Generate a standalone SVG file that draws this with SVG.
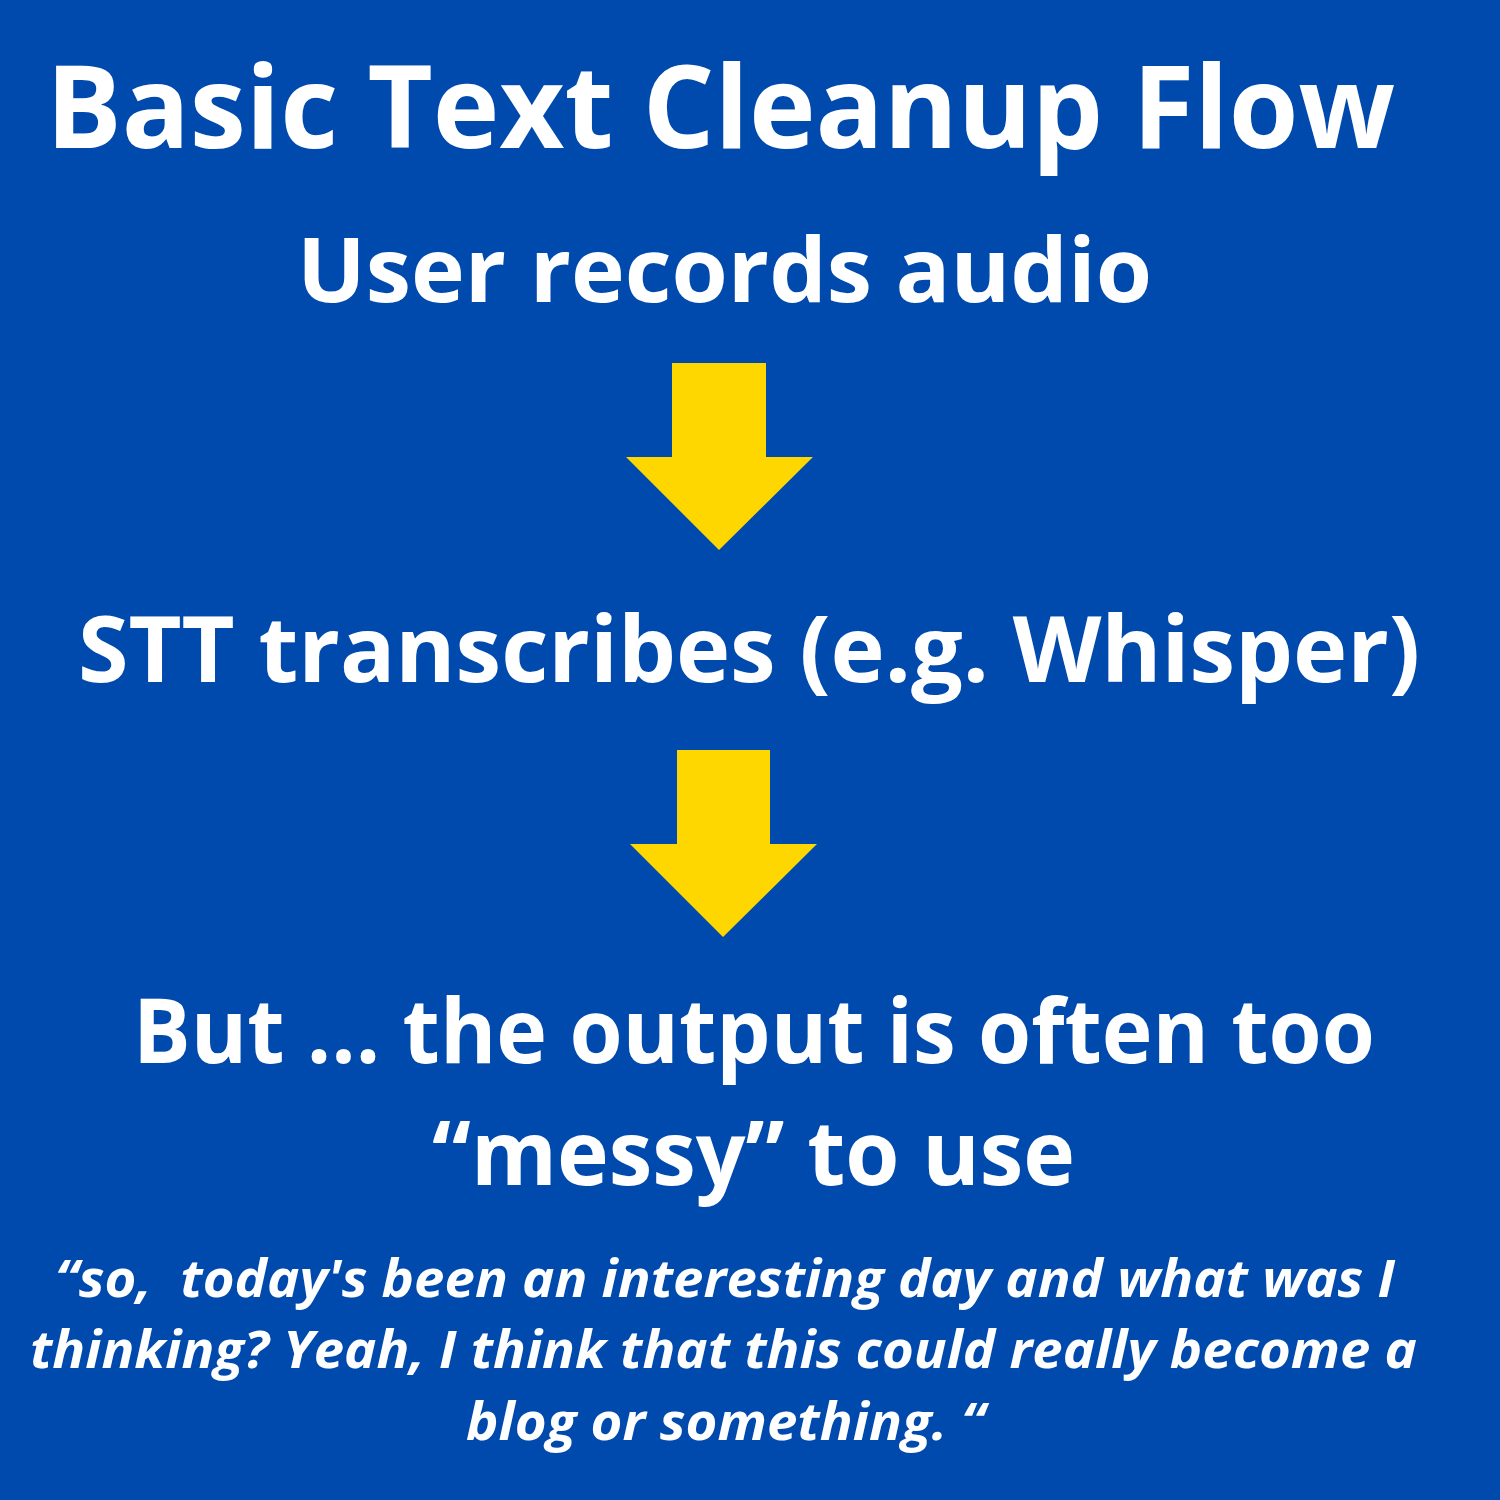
<svg xmlns="http://www.w3.org/2000/svg" width="1500" height="1500" viewBox="0 0 1500 1500">
<style>
.t{font-family:"Open Sans","Liberation Sans",sans-serif;font-weight:700;fill:#fff}
.q{font-family:"Open Sans","Liberation Sans",sans-serif;font-weight:700;font-style:italic;fill:#fff;font-size:52px;white-space:pre}
.arr{fill:#FFD700}
</style>
<rect width="1500" height="1500" fill="#004AAD"/>
<g id="title"><text class="t" x="46" y="148" font-size="115" textLength="1349" lengthAdjust="spacingAndGlyphs">Basic Text Cleanup Flow</text></g>
<g id="node-record"><text class="t" x="297" y="302" font-size="90" textLength="855" lengthAdjust="spacingAndGlyphs">User records audio</text></g>
<g id="node-stt"><text class="t" x="78" y="682" font-size="92" textLength="1342" lengthAdjust="spacingAndGlyphs">STT transcribes (e.g. Whisper)</text></g>
<g id="node-output">
<text class="t" x="133" y="1063" font-size="90" textLength="1242" lengthAdjust="spacingAndGlyphs">But ... the output is often too</text>
<text class="t" x="432" y="1185" font-size="90" textLength="643" lengthAdjust="spacingAndGlyphs">“messy” to use</text>
</g>
<g id="quote">
<text class="q" x="55" y="1297" textLength="1340" lengthAdjust="spacingAndGlyphs" xml:space="preserve">“so,  today's been an interesting day and what was I</text>
<text class="q" x="30" y="1368" textLength="1387" lengthAdjust="spacingAndGlyphs">thinking? Yeah, I think that this could really become a</text>
<text class="q" x="466" y="1440" textLength="519" lengthAdjust="spacingAndGlyphs">blog or something. “</text>
</g>
<g id="connectors">
<polygon class="arr" points="672,363 766,363 766,457 813,457 719,550 626,457 672,457"/>
<polygon class="arr" points="677,750 770,750 770,844 817,844 723,937 630,844 677,844"/>
</g>
</svg>
